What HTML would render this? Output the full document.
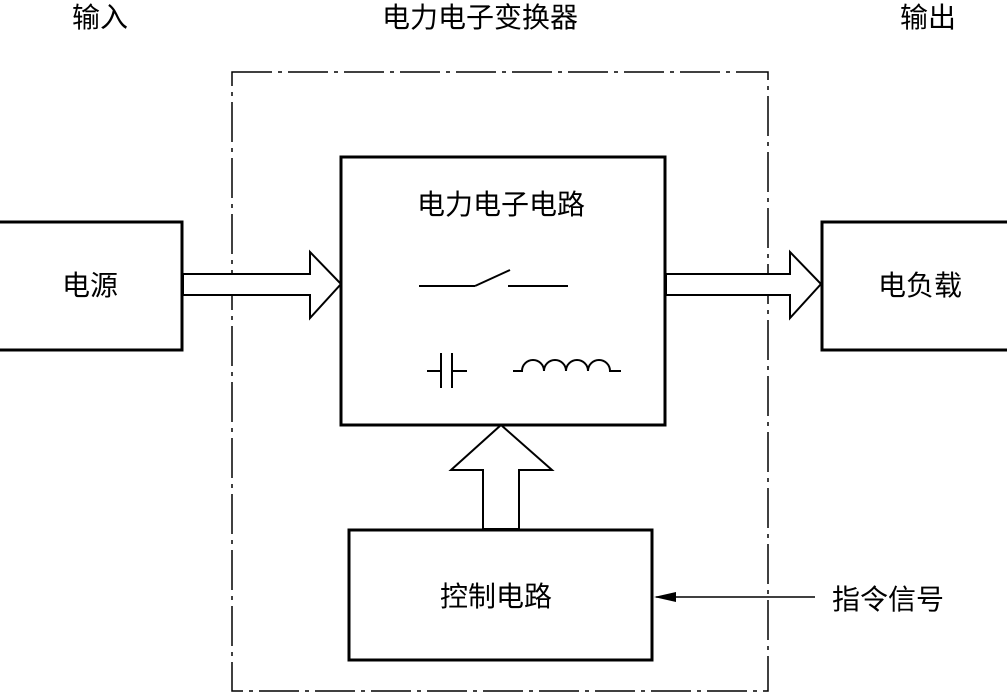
<!DOCTYPE html>
<html><head><meta charset="utf-8"><style>
body{margin:0;background:#fff;width:1007px;height:693px;overflow:hidden}
text{font-family:"Liberation Sans","Noto Sans CJK SC",sans-serif;font-size:28px;fill:#000}
</style></head><body>
<svg width="1007" height="693" viewBox="0 0 1007 693" xmlns="http://www.w3.org/2000/svg">
<rect x="232" y="72" width="536" height="619" fill="none" stroke="#000" stroke-width="1.5" stroke-dasharray="40,6,4,6"/>
<g fill="#fff" stroke="#000" stroke-width="3">
<rect x="-2" y="222" width="184" height="128"/>
<rect x="341" y="157" width="324" height="268"/>
<rect x="822" y="222" width="187" height="128"/>
<rect x="349" y="530" width="303" height="130"/>
</g>
<g fill="#fff" stroke="#000" stroke-width="2">
<polygon points="183,274 310,274 310,252 341,284 310,318 310,295 183,295"/>
<polygon points="666,274 790,274 790,252 821,284 790,318 790,295 666,295"/>
<polygon points="483,529 483,470 451,470 501,425 552,470 519,470 519,529"/>
</g>
<line x1="232" y1="274" x2="232" y2="295" stroke="#fff" stroke-width="0"/>
<g stroke="#000" stroke-width="2" fill="none">
<line x1="419" y1="286" x2="475" y2="286"/>
<line x1="475" y1="286" x2="510" y2="270"/>
<line x1="508" y1="286" x2="568" y2="286"/>
<line x1="427" y1="371" x2="441" y2="371"/>
<line x1="441" y1="353" x2="441" y2="388"/>
<line x1="452" y1="353" x2="452" y2="388"/>
<line x1="452" y1="371" x2="467" y2="371"/>
<path d="M513 371 H522 A11 11 0 0 1 544 371 A11 11 0 0 1 566 371 A11 11 0 0 1 588 371 A11 11 0 0 1 610 371 H621"/>
<line x1="815" y1="597" x2="656" y2="597" stroke-width="1.5"/>
</g>
<polygon points="654,597 676,592 676,602" fill="#000"/>
<text x="72" y="27">输入</text>
<text x="382" y="27">电力电子变换器</text>
<text x="900" y="27">输出</text>
<text x="417" y="214">电力电子电路</text>
<text x="62" y="295">电源</text>
<text x="878" y="295">电负载</text>
<text x="440" y="606">控制电路</text>
<text x="832" y="609">指令信号</text>
</svg>
</body></html>
